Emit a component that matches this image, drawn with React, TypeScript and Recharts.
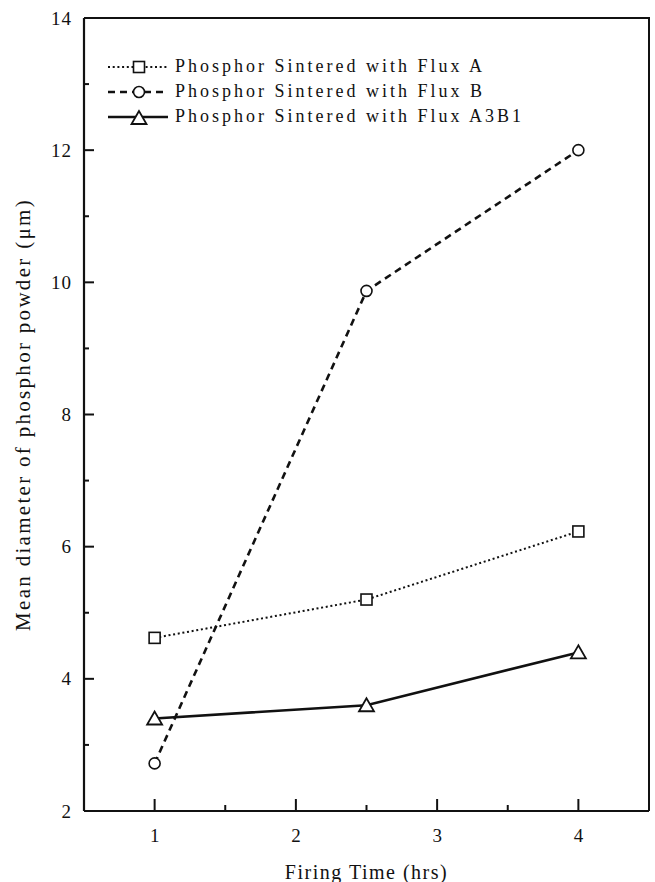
import React from "react";
import { LineChart, Line, XAxis, YAxis, Legend } from "recharts";

const firingTime = [1, 2.5, 4];
const fluxA = [4.62, 5.2, 6.23];
const fluxB = [2.72, 9.87, 12.0];
const fluxA3B1 = [3.4, 3.6, 4.4];

const xTicks = [1, 1.5, 2, 2.5, 3, 3.5, 4];
const yTicks = [2, 3, 4, 5, 6, 7, 8, 9, 10, 11, 12, 13, 14];
const xDomain = [0.5, 4.5];
const yDomain = [2, 14];

const seriesNames = [
  "Phosphor Sintered with Flux A",
  "Phosphor Sintered with Flux B",
  "Phosphor Sintered with Flux A3B1",
];

const data = firingTime.map((t, i) => ({
  t,
  a: fluxA[i],
  b: fluxB[i],
  ab: fluxA3B1[i],
}));

const W = 655;
const H = 882;
const MARGIN = { top: 18, right: 6, left: 0, bottom: 0 };
const Y_AXIS_W = 84;
const X_AXIS_H = 71;
const FONT = "'Liberation Serif', 'Times New Roman', serif";
const INK = "#111";
const frameLine = { stroke: INK, strokeWidth: 2.2 };

function Square({ cx, cy }: any) {
  if (cx == null || cy == null) return null;
  return <rect x={cx - 5.5} y={cy - 5.5} width={11} height={11} fill="#fff" stroke={INK} strokeWidth={1.6} />;
}

function Circle({ cx, cy }: any) {
  if (cx == null || cy == null) return null;
  return <circle cx={cx} cy={cy} r={5.5} fill="#fff" stroke={INK} strokeWidth={1.6} />;
}

function Triangle({ cx, cy }: any) {
  if (cx == null || cy == null) return null;
  const pts = `${cx},${cy - 7} ${cx - 7.5},${cy + 6} ${cx + 7.5},${cy + 6}`;
  return <polygon points={pts} fill="#fff" stroke={INK} strokeWidth={1.8} />;
}

function XTick({ x, y, payload }: any) {
  const major = Number.isInteger(payload.value);
  return (
    <g>
      <line x1={x} y1={y} x2={x} y2={y - (major ? 12 : 6)} stroke={INK} strokeWidth={2} />
      {major && (
        <text x={x} y={y + 31} textAnchor="middle" fontFamily={FONT} fontSize={19} fill={INK}>
          {payload.value}
        </text>
      )}
    </g>
  );
}

function YTick({ x, y, payload }: any) {
  const major = payload.value % 2 === 0;
  return (
    <g>
      <line x1={x} y1={y} x2={x + (major ? 10 : 5)} y2={y} stroke={INK} strokeWidth={2} />
      {major && (
        <text x={x - 12} y={y + 6.5} textAnchor="end" fontFamily={FONT} fontSize={19} fill={INK} letterSpacing={1}>
          {payload.value}
        </text>
      )}
    </g>
  );
}

function XTitle({ viewBox }: any) {
  const cx = viewBox.x + viewBox.width / 2;
  return (
    <text x={cx} y={879} textAnchor="middle" fontFamily={FONT} fontSize={20} fill={INK} letterSpacing={1.5}>
      Firing Time (hrs)
    </text>
  );
}

function YTitle({ viewBox }: any) {
  const cy = viewBox.y + viewBox.height / 2;
  return (
    <text
      x={30}
      y={cy}
      transform={`rotate(-90 30 ${cy})`}
      textAnchor="middle"
      fontFamily={FONT}
      fontSize={21}
      fill={INK}
      letterSpacing={2.3}
    >
      Mean diameter of phosphor powder (μm)
    </text>
  );
}

const legendStyles = [
  { dash: "2 2.7", width: 1.8, marker: "square" },
  { dash: "7 5", width: 2.4, marker: "circle" },
  { dash: undefined, width: 2.4, marker: "triangle" },
];

function LegendBox() {
  return (
    <div>
      {seriesNames.map((name, i) => {
        const s = legendStyles[i];
        return (
          <div key={name} style={{ display: "flex", alignItems: "center", height: 25 }}>
            <svg width={64} height={20}>
              <line x1={2} y1={10} x2={62} y2={10} stroke={INK} strokeWidth={s.width} strokeDasharray={s.dash} />
              {s.marker === "square" && <Square cx={33} cy={10} />}
              {s.marker === "circle" && <Circle cx={33} cy={10} />}
              {s.marker === "triangle" && <Triangle cx={33} cy={11} />}
            </svg>
            <span style={{ marginLeft: 5, fontFamily: FONT, fontSize: 18, color: INK, letterSpacing: 3, whiteSpace: "nowrap" }}>
              {name}
            </span>
          </div>
        );
      })}
    </div>
  );
}

export default function App() {
  // top and right edges of the plot frame
  const frame = {
    position: "absolute" as const,
    left: MARGIN.left + Y_AXIS_W,
    top: MARGIN.top - 1,
    width: W - MARGIN.right - MARGIN.left - Y_AXIS_W + 1,
    height: H - MARGIN.top - MARGIN.bottom - X_AXIS_H + 1,
    borderTop: `2px solid ${INK}`,
    borderRight: `2px solid ${INK}`,
    boxSizing: "border-box" as const,
    pointerEvents: "none" as const,
    zIndex: 5,
  };
  return (
    <div style={{ position: "relative", width: W, height: H, background: "#fff" }}>
      <style>{"body{margin:0;background:#fff}"}</style>
      <LineChart width={W} height={H} data={data} margin={MARGIN}>
        <XAxis
          dataKey="t"
          type="number"
          domain={xDomain}
          ticks={xTicks}
          interval={0}
          height={X_AXIS_H}
          tickSize={0}
          tickMargin={0}
          tickLine={false}
          axisLine={frameLine}
          tick={<XTick />}
          label={<XTitle />}
        />
        <YAxis
          type="number"
          domain={yDomain}
          ticks={yTicks}
          interval={0}
          width={Y_AXIS_W}
          tickSize={0}
          tickMargin={0}
          tickLine={false}
          axisLine={frameLine}
          tick={<YTick />}
          label={<YTitle />}
        />
        <Legend
          layout="vertical"
          align="center"
          verticalAlign="middle"
          content={<LegendBox />}
          wrapperStyle={{ top: 54, left: 106, width: 500, height: 80 }}
        />
        <Line
          dataKey="a"
          name={seriesNames[0]}
          stroke={INK}
          strokeWidth={2}
          strokeDasharray="2 2.7"
          dot={<Square />}
          activeDot={false}
          isAnimationActive={false}
        />
        <Line
          dataKey="b"
          name={seriesNames[1]}
          stroke={INK}
          strokeWidth={2.6}
          strokeDasharray="7 5"
          dot={<Circle />}
          activeDot={false}
          isAnimationActive={false}
        />
        <Line
          dataKey="ab"
          name={seriesNames[2]}
          stroke={INK}
          strokeWidth={2.6}
          dot={<Triangle />}
          activeDot={false}
          isAnimationActive={false}
        />
      </LineChart>
      <div style={frame} />
    </div>
  );
}
